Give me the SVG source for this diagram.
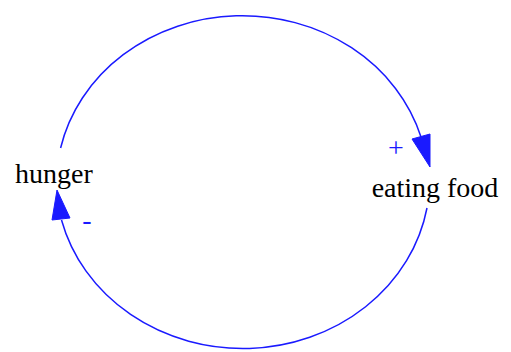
<svg xmlns="http://www.w3.org/2000/svg" width="511" height="352" viewBox="0 0 511 352">
<style>
.lbl{font-family:"Liberation Serif","Times New Roman",serif;font-size:28px;fill:#000;text-anchor:middle}
.pol{font-family:"Liberation Serif","Times New Roman",serif;font-size:28px;fill:#1a1aff;text-anchor:middle}
.edge{fill:none;stroke:#1a1aff;stroke-width:1.5}
.head{fill:#1a1aff;stroke:#1a1aff;stroke-width:1}
</style>
<rect width="511" height="352" fill="#fff"/>
<g id="connectors">
<g id="e1">
<path class="edge" d="M60.6,148 A186,168 0 0 1 421,137"/>
<polygon class="head" points="412,139 430,134 430,167"/>
<text class="pol" x="396" y="157">+</text>
</g>
<g id="e2">
<path class="edge" d="M427,208 A187,170 0 0 1 61.5,220"/>
<polygon class="head" points="52,220 70,218 57,190"/>
<text class="pol" x="87" y="229">-</text>
</g>
</g>
<g id="hunger"><text class="lbl" x="54" y="183">hunger</text></g>
<g id="eating_food"><text class="lbl" x="435" y="197">eating food</text></g>
</svg>
